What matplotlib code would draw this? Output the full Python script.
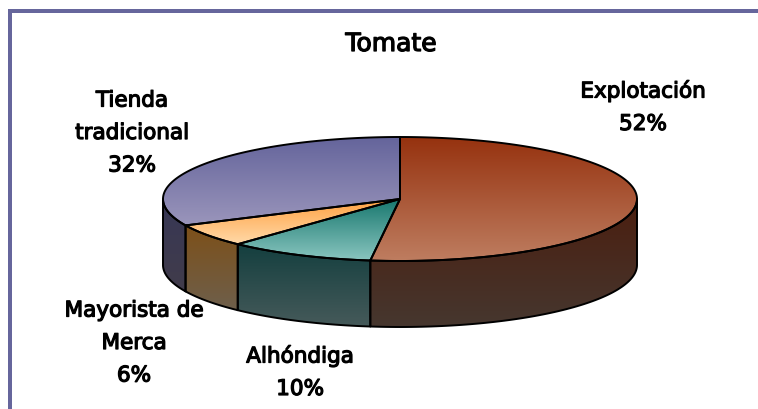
import numpy as np
import matplotlib
matplotlib.use("Agg")
import matplotlib.pyplot as plt
import matplotlib.patheffects as pe
from matplotlib.patches import Polygon, Rectangle
from matplotlib.colors import LinearSegmentedColormap

plt.rcParams['font.family'] = ['DejaVu Sans']

title = "Tomate"
labels = ["Explotación\n52%", "Alhóndiga\n10%", "Mayorista de\nMerca\n6%", "Tienda\ntradicional\n32%"]
values = [52, 10, 6, 32]
label_pos = [(643, 107), (300, 372), (134, 343), (132, 133)]
top_cols = [("#96320f", "#be7d60"), ("#19786f", "#8ac6c0"), ("#ffa040", "#ffd9a8"), ("#64649b", "#9a95bb")]
side_cols = [("#4b1e0f", "#46372f"), ("#143f3f", "#465a5a"), ("#7d5019", "#6e5f4b"), ("#373755", "#413c4b")]

cx, cy, a, b, depth = 400, 199, 237, 62, 66

fig = plt.figure(figsize=(7.58, 4.09), dpi=100)
ax = fig.add_axes([0, 0, 1, 1])
ax.set_xlim(0, 758)
ax.set_ylim(409, 0)
ax.axis("off")

BORDER = "#66669c"
ax.add_patch(Rectangle((8, 9), 750, 4, color=BORDER, lw=0))
ax.add_patch(Rectangle((8, 9), 4, 400, color=BORDER, lw=0))


def ell(t):
    # t in degrees, clockwise from 12 o'clock
    r = np.radians(t)
    return cx + a * np.sin(r), cy - b * np.cos(r)


def fill_grad(pts, cols):
    pts = np.array(pts)
    cmap = LinearSegmentedColormap.from_list("g", cols)
    x0, x1 = pts[:, 0].min(), pts[:, 0].max()
    y0, y1 = pts[:, 1].min(), pts[:, 1].max()
    im = ax.imshow(np.linspace(0, 1, 128).reshape(-1, 1), cmap=cmap, aspect="auto",
                   extent=(x0, x1, y1, y0), zorder=2, interpolation="bilinear")
    p = Polygon(pts, closed=True, fc="none", ec="black", lw=1.4, joinstyle="round", zorder=3)
    ax.add_patch(p)
    im.set_clip_path(p)


edges = np.cumsum([0] + values) * 3.6

# side walls
for i in range(len(values)):
    t0, t1 = max(edges[i], 90), min(edges[i + 1], 270)
    if t1 <= t0:
        continue
    t = np.linspace(t0, t1, 80)
    x, y = ell(t)
    pts = list(zip(x, y)) + list(zip(x[::-1], y[::-1] + depth))
    fill_grad(pts, side_cols[i])

# top slices
for i in range(len(values)):
    t = np.linspace(edges[i], edges[i + 1], 150)
    x, y = ell(t)
    pts = [(cx, cy)] + list(zip(x, y))
    fill_grad(pts, top_cols[i])

ax.set_xlim(0, 758)
ax.set_ylim(409, 0)

fat = [pe.withStroke(linewidth=0.9, foreground="black")]
ax.text(391, 44, title, ha="center", va="center", fontsize=18, color="black", path_effects=fat)
for s, (x, y) in zip(labels, label_pos):
    ax.text(x, y, s, ha="center", va="center", fontsize=15.5, color="black",
            linespacing=1.78, path_effects=fat)

fig.savefig("out.png", dpi=100)
